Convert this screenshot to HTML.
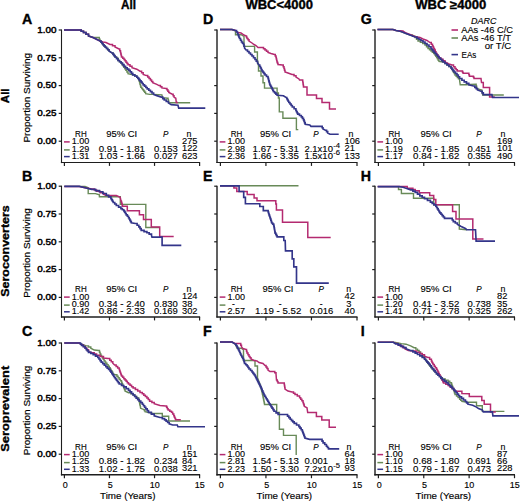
<!DOCTYPE html>
<html><head><meta charset="utf-8"><style>
html,body{margin:0;padding:0;background:#fff;width:520px;height:501px;overflow:hidden}
svg{display:block}
svg text{font-family:"Liberation Sans", sans-serif;fill:#000;stroke:#000;stroke-width:0.12px}
svg text[font-weight=bold]{stroke:#000;stroke-width:0.35px}
svg text.tk{stroke:#000;stroke-width:0.45px}
svg text.yl{stroke:#000;stroke-width:0.2px}
svg text.xl{stroke:#000;stroke-width:0.15px}
</style></head><body>
<svg width="520" height="501" viewBox="0 0 520 501">
<text x="121.00" y="8.70" font-size="12.2" font-weight="bold" textLength="15.00" lengthAdjust="spacingAndGlyphs">All</text>
<text x="245.40" y="8.70" font-size="12.2" font-weight="bold" textLength="67.60" lengthAdjust="spacingAndGlyphs">WBC&lt;4000</text>
<text x="415.20" y="8.70" font-size="12.2" font-weight="bold" textLength="71.20" lengthAdjust="spacingAndGlyphs">WBC ≥4000</text>
<text x="21.90" y="23.80" font-size="14.2" font-weight="bold">A</text>
<text x="21.90" y="181.40" font-size="14.2" font-weight="bold">B</text>
<text x="21.90" y="336.00" font-size="14.2" font-weight="bold">C</text>
<text x="202.90" y="23.80" font-size="14.2" font-weight="bold">D</text>
<text x="202.90" y="181.40" font-size="14.2" font-weight="bold">E</text>
<text x="202.90" y="336.00" font-size="14.2" font-weight="bold">F</text>
<text x="360.70" y="23.80" font-size="14.2" font-weight="bold">G</text>
<text x="360.70" y="181.40" font-size="14.2" font-weight="bold">H</text>
<text x="360.70" y="336.00" font-size="14.2" font-weight="bold">I</text>
<text x="9.00" y="95.80" font-size="11.2" font-weight="bold" text-anchor="middle" textLength="14.80" lengthAdjust="spacingAndGlyphs" transform="rotate(-90 9.00 95.80)">All</text>
<text x="29.80" y="97.80" font-size="8.6" text-anchor="middle" textLength="89.50" lengthAdjust="spacingAndGlyphs" transform="rotate(-90 29.80 97.80)" class="yl">Proportion Surviving</text>
<text x="9.00" y="251.00" font-size="11.2" font-weight="bold" text-anchor="middle" textLength="91.50" lengthAdjust="spacingAndGlyphs" transform="rotate(-90 9.00 251.00)">Seroconverters</text>
<text x="29.80" y="253.00" font-size="8.6" text-anchor="middle" textLength="89.50" lengthAdjust="spacingAndGlyphs" transform="rotate(-90 29.80 253.00)" class="yl">Proportion Surviving</text>
<text x="9.00" y="408.80" font-size="11.2" font-weight="bold" text-anchor="middle" textLength="86.00" lengthAdjust="spacingAndGlyphs" transform="rotate(-90 9.00 408.80)">Seroprevalent</text>
<text x="29.80" y="410.50" font-size="8.6" text-anchor="middle" textLength="89.50" lengthAdjust="spacingAndGlyphs" transform="rotate(-90 29.80 410.50)" class="yl">Proportion Surviving</text>
<line x1="61.50" y1="29.50" x2="61.50" y2="163.10" stroke="#1e1e1e" stroke-width="1.1"/>
<line x1="60.90" y1="162.50" x2="200.10" y2="162.50" stroke="#1e1e1e" stroke-width="1.1"/>
<line x1="58.70" y1="30.00" x2="61.50" y2="30.00" stroke="#1e1e1e" stroke-width="1.2"/>
<line x1="58.70" y1="57.80" x2="61.50" y2="57.80" stroke="#1e1e1e" stroke-width="1.2"/>
<line x1="58.70" y1="85.60" x2="61.50" y2="85.60" stroke="#1e1e1e" stroke-width="1.2"/>
<line x1="58.70" y1="113.40" x2="61.50" y2="113.40" stroke="#1e1e1e" stroke-width="1.2"/>
<line x1="58.70" y1="141.20" x2="61.50" y2="141.20" stroke="#1e1e1e" stroke-width="1.2"/>
<line x1="64.40" y1="162.50" x2="64.40" y2="165.90" stroke="#1e1e1e" stroke-width="1.2"/>
<line x1="109.47" y1="162.50" x2="109.47" y2="165.90" stroke="#1e1e1e" stroke-width="1.2"/>
<line x1="154.53" y1="162.50" x2="154.53" y2="165.90" stroke="#1e1e1e" stroke-width="1.2"/>
<line x1="199.60" y1="162.50" x2="199.60" y2="165.90" stroke="#1e1e1e" stroke-width="1.2"/>
<text x="56.50" y="32.70" font-size="8.8" text-anchor="end" textLength="19.20" lengthAdjust="spacingAndGlyphs" class="tk">1.00</text>
<text x="56.50" y="60.50" font-size="8.8" text-anchor="end" textLength="19.20" lengthAdjust="spacingAndGlyphs" class="tk">0.75</text>
<text x="56.50" y="88.30" font-size="8.8" text-anchor="end" textLength="19.20" lengthAdjust="spacingAndGlyphs" class="tk">0.50</text>
<text x="56.50" y="116.10" font-size="8.8" text-anchor="end" textLength="19.20" lengthAdjust="spacingAndGlyphs" class="tk">0.25</text>
<text x="56.50" y="143.90" font-size="8.8" text-anchor="end" textLength="19.20" lengthAdjust="spacingAndGlyphs" class="tk">0.00</text>
<line x1="61.50" y1="185.70" x2="61.50" y2="317.60" stroke="#1e1e1e" stroke-width="1.1"/>
<line x1="60.90" y1="317.00" x2="200.10" y2="317.00" stroke="#1e1e1e" stroke-width="1.4"/>
<line x1="58.70" y1="186.20" x2="61.50" y2="186.20" stroke="#1e1e1e" stroke-width="1.2"/>
<line x1="58.70" y1="214.00" x2="61.50" y2="214.00" stroke="#1e1e1e" stroke-width="1.2"/>
<line x1="58.70" y1="241.80" x2="61.50" y2="241.80" stroke="#1e1e1e" stroke-width="1.2"/>
<line x1="58.70" y1="269.60" x2="61.50" y2="269.60" stroke="#1e1e1e" stroke-width="1.2"/>
<line x1="58.70" y1="297.40" x2="61.50" y2="297.40" stroke="#1e1e1e" stroke-width="1.2"/>
<line x1="64.40" y1="317.00" x2="64.40" y2="320.40" stroke="#1e1e1e" stroke-width="1.2"/>
<line x1="109.47" y1="317.00" x2="109.47" y2="320.40" stroke="#1e1e1e" stroke-width="1.2"/>
<line x1="154.53" y1="317.00" x2="154.53" y2="320.40" stroke="#1e1e1e" stroke-width="1.2"/>
<line x1="199.60" y1="317.00" x2="199.60" y2="320.40" stroke="#1e1e1e" stroke-width="1.2"/>
<text x="56.50" y="188.90" font-size="8.8" text-anchor="end" textLength="19.20" lengthAdjust="spacingAndGlyphs" class="tk">1.00</text>
<text x="56.50" y="216.70" font-size="8.8" text-anchor="end" textLength="19.20" lengthAdjust="spacingAndGlyphs" class="tk">0.75</text>
<text x="56.50" y="244.50" font-size="8.8" text-anchor="end" textLength="19.20" lengthAdjust="spacingAndGlyphs" class="tk">0.50</text>
<text x="56.50" y="272.30" font-size="8.8" text-anchor="end" textLength="19.20" lengthAdjust="spacingAndGlyphs" class="tk">0.25</text>
<text x="56.50" y="300.10" font-size="8.8" text-anchor="end" textLength="19.20" lengthAdjust="spacingAndGlyphs" class="tk">0.00</text>
<line x1="61.50" y1="342.50" x2="61.50" y2="475.40" stroke="#1e1e1e" stroke-width="1.1"/>
<line x1="60.90" y1="474.80" x2="200.10" y2="474.80" stroke="#1e1e1e" stroke-width="1.4"/>
<line x1="58.70" y1="343.00" x2="61.50" y2="343.00" stroke="#1e1e1e" stroke-width="1.2"/>
<line x1="58.70" y1="370.80" x2="61.50" y2="370.80" stroke="#1e1e1e" stroke-width="1.2"/>
<line x1="58.70" y1="398.60" x2="61.50" y2="398.60" stroke="#1e1e1e" stroke-width="1.2"/>
<line x1="58.70" y1="426.40" x2="61.50" y2="426.40" stroke="#1e1e1e" stroke-width="1.2"/>
<line x1="58.70" y1="454.20" x2="61.50" y2="454.20" stroke="#1e1e1e" stroke-width="1.2"/>
<line x1="64.40" y1="474.80" x2="64.40" y2="478.20" stroke="#1e1e1e" stroke-width="1.2"/>
<line x1="109.47" y1="474.80" x2="109.47" y2="478.20" stroke="#1e1e1e" stroke-width="1.2"/>
<line x1="154.53" y1="474.80" x2="154.53" y2="478.20" stroke="#1e1e1e" stroke-width="1.2"/>
<line x1="199.60" y1="474.80" x2="199.60" y2="478.20" stroke="#1e1e1e" stroke-width="1.2"/>
<text x="56.50" y="345.70" font-size="8.8" text-anchor="end" textLength="19.20" lengthAdjust="spacingAndGlyphs" class="tk">1.00</text>
<text x="56.50" y="373.50" font-size="8.8" text-anchor="end" textLength="19.20" lengthAdjust="spacingAndGlyphs" class="tk">0.75</text>
<text x="56.50" y="401.30" font-size="8.8" text-anchor="end" textLength="19.20" lengthAdjust="spacingAndGlyphs" class="tk">0.50</text>
<text x="56.50" y="429.10" font-size="8.8" text-anchor="end" textLength="19.20" lengthAdjust="spacingAndGlyphs" class="tk">0.25</text>
<text x="56.50" y="456.90" font-size="8.8" text-anchor="end" textLength="19.20" lengthAdjust="spacingAndGlyphs" class="tk">0.00</text>
<text x="65.20" y="487.80" font-size="9.6" text-anchor="middle" textLength="5.00" lengthAdjust="spacingAndGlyphs" class="xl">0</text>
<text x="110.27" y="487.80" font-size="9.6" text-anchor="middle" textLength="5.00" lengthAdjust="spacingAndGlyphs" class="xl">5</text>
<text x="154.73" y="487.80" font-size="9.6" text-anchor="middle" textLength="10.00" lengthAdjust="spacingAndGlyphs" class="xl">10</text>
<text x="199.80" y="487.80" font-size="9.6" text-anchor="middle" textLength="10.00" lengthAdjust="spacingAndGlyphs" class="xl">15</text>
<text x="100.00" y="498.80" font-size="9.6" textLength="55.50" lengthAdjust="spacingAndGlyphs" class="xl">Time (Years)</text>
<line x1="217.00" y1="29.50" x2="217.00" y2="163.10" stroke="#1e1e1e" stroke-width="1.4"/>
<line x1="216.40" y1="162.50" x2="357.50" y2="162.50" stroke="#1e1e1e" stroke-width="1.1"/>
<line x1="214.20" y1="30.00" x2="217.00" y2="30.00" stroke="#1e1e1e" stroke-width="1.2"/>
<line x1="214.20" y1="57.80" x2="217.00" y2="57.80" stroke="#1e1e1e" stroke-width="1.2"/>
<line x1="214.20" y1="85.60" x2="217.00" y2="85.60" stroke="#1e1e1e" stroke-width="1.2"/>
<line x1="214.20" y1="113.40" x2="217.00" y2="113.40" stroke="#1e1e1e" stroke-width="1.2"/>
<line x1="214.20" y1="141.20" x2="217.00" y2="141.20" stroke="#1e1e1e" stroke-width="1.2"/>
<line x1="220.40" y1="162.50" x2="220.40" y2="165.90" stroke="#1e1e1e" stroke-width="1.2"/>
<line x1="265.93" y1="162.50" x2="265.93" y2="165.90" stroke="#1e1e1e" stroke-width="1.2"/>
<line x1="311.47" y1="162.50" x2="311.47" y2="165.90" stroke="#1e1e1e" stroke-width="1.2"/>
<line x1="357.00" y1="162.50" x2="357.00" y2="165.90" stroke="#1e1e1e" stroke-width="1.2"/>
<line x1="217.00" y1="185.70" x2="217.00" y2="317.60" stroke="#1e1e1e" stroke-width="1.4"/>
<line x1="216.40" y1="317.00" x2="357.50" y2="317.00" stroke="#1e1e1e" stroke-width="1.4"/>
<line x1="214.20" y1="186.20" x2="217.00" y2="186.20" stroke="#1e1e1e" stroke-width="1.2"/>
<line x1="214.20" y1="214.00" x2="217.00" y2="214.00" stroke="#1e1e1e" stroke-width="1.2"/>
<line x1="214.20" y1="241.80" x2="217.00" y2="241.80" stroke="#1e1e1e" stroke-width="1.2"/>
<line x1="214.20" y1="269.60" x2="217.00" y2="269.60" stroke="#1e1e1e" stroke-width="1.2"/>
<line x1="214.20" y1="297.40" x2="217.00" y2="297.40" stroke="#1e1e1e" stroke-width="1.2"/>
<line x1="220.40" y1="317.00" x2="220.40" y2="320.40" stroke="#1e1e1e" stroke-width="1.2"/>
<line x1="265.93" y1="317.00" x2="265.93" y2="320.40" stroke="#1e1e1e" stroke-width="1.2"/>
<line x1="311.47" y1="317.00" x2="311.47" y2="320.40" stroke="#1e1e1e" stroke-width="1.2"/>
<line x1="357.00" y1="317.00" x2="357.00" y2="320.40" stroke="#1e1e1e" stroke-width="1.2"/>
<line x1="217.00" y1="342.50" x2="217.00" y2="475.40" stroke="#1e1e1e" stroke-width="1.4"/>
<line x1="216.40" y1="474.80" x2="357.50" y2="474.80" stroke="#1e1e1e" stroke-width="1.4"/>
<line x1="214.20" y1="343.00" x2="217.00" y2="343.00" stroke="#1e1e1e" stroke-width="1.2"/>
<line x1="214.20" y1="370.80" x2="217.00" y2="370.80" stroke="#1e1e1e" stroke-width="1.2"/>
<line x1="214.20" y1="398.60" x2="217.00" y2="398.60" stroke="#1e1e1e" stroke-width="1.2"/>
<line x1="214.20" y1="426.40" x2="217.00" y2="426.40" stroke="#1e1e1e" stroke-width="1.2"/>
<line x1="214.20" y1="454.20" x2="217.00" y2="454.20" stroke="#1e1e1e" stroke-width="1.2"/>
<line x1="220.40" y1="474.80" x2="220.40" y2="478.20" stroke="#1e1e1e" stroke-width="1.2"/>
<line x1="265.93" y1="474.80" x2="265.93" y2="478.20" stroke="#1e1e1e" stroke-width="1.2"/>
<line x1="311.47" y1="474.80" x2="311.47" y2="478.20" stroke="#1e1e1e" stroke-width="1.2"/>
<line x1="357.00" y1="474.80" x2="357.00" y2="478.20" stroke="#1e1e1e" stroke-width="1.2"/>
<text x="221.20" y="487.80" font-size="9.6" text-anchor="middle" textLength="5.00" lengthAdjust="spacingAndGlyphs" class="xl">0</text>
<text x="266.73" y="487.80" font-size="9.6" text-anchor="middle" textLength="5.00" lengthAdjust="spacingAndGlyphs" class="xl">5</text>
<text x="311.67" y="487.80" font-size="9.6" text-anchor="middle" textLength="10.00" lengthAdjust="spacingAndGlyphs" class="xl">10</text>
<text x="357.20" y="487.80" font-size="9.6" text-anchor="middle" textLength="10.00" lengthAdjust="spacingAndGlyphs" class="xl">15</text>
<text x="256.60" y="498.80" font-size="9.6" textLength="55.50" lengthAdjust="spacingAndGlyphs" class="xl">Time (Years)</text>
<line x1="375.00" y1="29.50" x2="375.00" y2="163.10" stroke="#1e1e1e" stroke-width="1.4"/>
<line x1="374.40" y1="162.50" x2="515.00" y2="162.50" stroke="#1e1e1e" stroke-width="1.1"/>
<line x1="372.20" y1="30.00" x2="375.00" y2="30.00" stroke="#1e1e1e" stroke-width="1.2"/>
<line x1="372.20" y1="57.80" x2="375.00" y2="57.80" stroke="#1e1e1e" stroke-width="1.2"/>
<line x1="372.20" y1="85.60" x2="375.00" y2="85.60" stroke="#1e1e1e" stroke-width="1.2"/>
<line x1="372.20" y1="113.40" x2="375.00" y2="113.40" stroke="#1e1e1e" stroke-width="1.2"/>
<line x1="372.20" y1="141.20" x2="375.00" y2="141.20" stroke="#1e1e1e" stroke-width="1.2"/>
<line x1="378.40" y1="162.50" x2="378.40" y2="165.90" stroke="#1e1e1e" stroke-width="1.2"/>
<line x1="423.77" y1="162.50" x2="423.77" y2="165.90" stroke="#1e1e1e" stroke-width="1.2"/>
<line x1="469.13" y1="162.50" x2="469.13" y2="165.90" stroke="#1e1e1e" stroke-width="1.2"/>
<line x1="514.50" y1="162.50" x2="514.50" y2="165.90" stroke="#1e1e1e" stroke-width="1.2"/>
<line x1="375.00" y1="185.70" x2="375.00" y2="317.60" stroke="#1e1e1e" stroke-width="1.4"/>
<line x1="374.40" y1="317.00" x2="515.00" y2="317.00" stroke="#1e1e1e" stroke-width="1.4"/>
<line x1="372.20" y1="186.20" x2="375.00" y2="186.20" stroke="#1e1e1e" stroke-width="1.2"/>
<line x1="372.20" y1="214.00" x2="375.00" y2="214.00" stroke="#1e1e1e" stroke-width="1.2"/>
<line x1="372.20" y1="241.80" x2="375.00" y2="241.80" stroke="#1e1e1e" stroke-width="1.2"/>
<line x1="372.20" y1="269.60" x2="375.00" y2="269.60" stroke="#1e1e1e" stroke-width="1.2"/>
<line x1="372.20" y1="297.40" x2="375.00" y2="297.40" stroke="#1e1e1e" stroke-width="1.2"/>
<line x1="378.40" y1="317.00" x2="378.40" y2="320.40" stroke="#1e1e1e" stroke-width="1.2"/>
<line x1="423.77" y1="317.00" x2="423.77" y2="320.40" stroke="#1e1e1e" stroke-width="1.2"/>
<line x1="469.13" y1="317.00" x2="469.13" y2="320.40" stroke="#1e1e1e" stroke-width="1.2"/>
<line x1="514.50" y1="317.00" x2="514.50" y2="320.40" stroke="#1e1e1e" stroke-width="1.2"/>
<line x1="375.00" y1="342.50" x2="375.00" y2="475.40" stroke="#1e1e1e" stroke-width="1.4"/>
<line x1="374.40" y1="474.80" x2="515.00" y2="474.80" stroke="#1e1e1e" stroke-width="1.4"/>
<line x1="372.20" y1="343.00" x2="375.00" y2="343.00" stroke="#1e1e1e" stroke-width="1.2"/>
<line x1="372.20" y1="370.80" x2="375.00" y2="370.80" stroke="#1e1e1e" stroke-width="1.2"/>
<line x1="372.20" y1="398.60" x2="375.00" y2="398.60" stroke="#1e1e1e" stroke-width="1.2"/>
<line x1="372.20" y1="426.40" x2="375.00" y2="426.40" stroke="#1e1e1e" stroke-width="1.2"/>
<line x1="372.20" y1="454.20" x2="375.00" y2="454.20" stroke="#1e1e1e" stroke-width="1.2"/>
<line x1="378.40" y1="474.80" x2="378.40" y2="478.20" stroke="#1e1e1e" stroke-width="1.2"/>
<line x1="423.77" y1="474.80" x2="423.77" y2="478.20" stroke="#1e1e1e" stroke-width="1.2"/>
<line x1="469.13" y1="474.80" x2="469.13" y2="478.20" stroke="#1e1e1e" stroke-width="1.2"/>
<line x1="514.50" y1="474.80" x2="514.50" y2="478.20" stroke="#1e1e1e" stroke-width="1.2"/>
<text x="379.20" y="487.80" font-size="9.6" text-anchor="middle" textLength="5.00" lengthAdjust="spacingAndGlyphs" class="xl">0</text>
<text x="424.57" y="487.80" font-size="9.6" text-anchor="middle" textLength="5.00" lengthAdjust="spacingAndGlyphs" class="xl">5</text>
<text x="469.33" y="487.80" font-size="9.6" text-anchor="middle" textLength="10.00" lengthAdjust="spacingAndGlyphs" class="xl">10</text>
<text x="514.70" y="487.80" font-size="9.6" text-anchor="middle" textLength="10.00" lengthAdjust="spacingAndGlyphs" class="xl">15</text>
<text x="415.60" y="498.80" font-size="9.6" textLength="55.50" lengthAdjust="spacingAndGlyphs" class="xl">Time (Years)</text>
<text x="75.10" y="137.00" font-size="8.5" textLength="11.60" lengthAdjust="spacingAndGlyphs">RH</text>
<text x="106.20" y="137.00" font-size="8.5" textLength="31.00" lengthAdjust="spacingAndGlyphs">95% CI</text>
<text x="162.90" y="137.00" font-size="8.5" font-style="italic" textLength="5.40" lengthAdjust="spacingAndGlyphs">P</text>
<text x="186.40" y="137.00" font-size="8.5" textLength="4.90" lengthAdjust="spacingAndGlyphs">n</text>
<line x1="64.00" y1="141.90" x2="69.70" y2="141.90" stroke="#b42a70" stroke-width="1.5"/>
<text x="71.70" y="144.30" font-size="8.5" textLength="17.59" lengthAdjust="spacingAndGlyphs">1.00</text>
<text x="182.00" y="144.00" font-size="8.5" textLength="15.55" lengthAdjust="spacingAndGlyphs">275</text>
<line x1="64.00" y1="149.90" x2="69.70" y2="149.90" stroke="#688a58" stroke-width="1.5"/>
<text x="71.70" y="151.70" font-size="8.5" textLength="17.59" lengthAdjust="spacingAndGlyphs">1.29</text>
<text x="98.70" y="151.70" font-size="8.5" textLength="46.28" lengthAdjust="spacingAndGlyphs">0.91 - 1.81</text>
<text x="154.00" y="151.70" font-size="8.5" textLength="23.70" lengthAdjust="spacingAndGlyphs">0.153</text>
<text x="182.00" y="151.40" font-size="8.5" textLength="15.55" lengthAdjust="spacingAndGlyphs">122</text>
<line x1="64.00" y1="156.60" x2="69.70" y2="156.60" stroke="#33358a" stroke-width="1.5"/>
<text x="71.70" y="159.00" font-size="8.5" textLength="17.59" lengthAdjust="spacingAndGlyphs">1.31</text>
<text x="98.70" y="159.00" font-size="8.5" textLength="46.28" lengthAdjust="spacingAndGlyphs">1.03 - 1.66</text>
<text x="154.00" y="159.00" font-size="8.5" textLength="23.70" lengthAdjust="spacingAndGlyphs">0.027</text>
<text x="182.00" y="158.70" font-size="8.5" textLength="15.55" lengthAdjust="spacingAndGlyphs">623</text>
<text x="75.10" y="292.20" font-size="8.5" textLength="11.60" lengthAdjust="spacingAndGlyphs">RH</text>
<text x="106.20" y="292.20" font-size="8.5" textLength="31.00" lengthAdjust="spacingAndGlyphs">95% CI</text>
<text x="162.90" y="292.20" font-size="8.5" font-style="italic" textLength="5.40" lengthAdjust="spacingAndGlyphs">P</text>
<text x="186.40" y="292.20" font-size="8.5" textLength="4.90" lengthAdjust="spacingAndGlyphs">n</text>
<line x1="64.00" y1="297.10" x2="69.70" y2="297.10" stroke="#b42a70" stroke-width="1.5"/>
<text x="71.70" y="299.50" font-size="8.5" textLength="17.59" lengthAdjust="spacingAndGlyphs">1.00</text>
<text x="182.00" y="299.20" font-size="8.5" textLength="15.55" lengthAdjust="spacingAndGlyphs">124</text>
<line x1="64.00" y1="305.10" x2="69.70" y2="305.10" stroke="#688a58" stroke-width="1.5"/>
<text x="71.70" y="306.90" font-size="8.5" textLength="17.59" lengthAdjust="spacingAndGlyphs">0.90</text>
<text x="98.70" y="306.90" font-size="8.5" textLength="46.28" lengthAdjust="spacingAndGlyphs">0.34 - 2.40</text>
<text x="154.00" y="306.90" font-size="8.5" textLength="23.70" lengthAdjust="spacingAndGlyphs">0.830</text>
<text x="182.00" y="306.60" font-size="8.5" textLength="10.37" lengthAdjust="spacingAndGlyphs">38</text>
<line x1="64.00" y1="311.80" x2="69.70" y2="311.80" stroke="#33358a" stroke-width="1.5"/>
<text x="71.70" y="314.20" font-size="8.5" textLength="17.59" lengthAdjust="spacingAndGlyphs">1.42</text>
<text x="98.70" y="314.20" font-size="8.5" textLength="46.28" lengthAdjust="spacingAndGlyphs">0.86 - 2.33</text>
<text x="154.00" y="314.20" font-size="8.5" textLength="23.70" lengthAdjust="spacingAndGlyphs">0.169</text>
<text x="182.00" y="313.90" font-size="8.5" textLength="15.55" lengthAdjust="spacingAndGlyphs">302</text>
<text x="75.10" y="449.70" font-size="8.5" textLength="11.60" lengthAdjust="spacingAndGlyphs">RH</text>
<text x="106.20" y="449.70" font-size="8.5" textLength="31.00" lengthAdjust="spacingAndGlyphs">95% CI</text>
<text x="162.90" y="449.70" font-size="8.5" font-style="italic" textLength="5.40" lengthAdjust="spacingAndGlyphs">P</text>
<text x="186.80" y="449.70" font-size="8.5" textLength="4.90" lengthAdjust="spacingAndGlyphs">n</text>
<line x1="64.00" y1="454.60" x2="69.70" y2="454.60" stroke="#b42a70" stroke-width="1.5"/>
<text x="71.70" y="457.00" font-size="8.5" textLength="17.59" lengthAdjust="spacingAndGlyphs">1.00</text>
<text x="182.00" y="456.70" font-size="8.5" textLength="15.55" lengthAdjust="spacingAndGlyphs">151</text>
<line x1="64.00" y1="462.60" x2="69.70" y2="462.60" stroke="#688a58" stroke-width="1.5"/>
<text x="71.70" y="464.40" font-size="8.5" textLength="17.59" lengthAdjust="spacingAndGlyphs">1.25</text>
<text x="98.70" y="464.40" font-size="8.5" textLength="46.28" lengthAdjust="spacingAndGlyphs">0.86 - 1.82</text>
<text x="154.00" y="464.40" font-size="8.5" textLength="23.70" lengthAdjust="spacingAndGlyphs">0.234</text>
<text x="182.00" y="464.10" font-size="8.5" textLength="10.37" lengthAdjust="spacingAndGlyphs">84</text>
<line x1="64.00" y1="469.30" x2="69.70" y2="469.30" stroke="#33358a" stroke-width="1.5"/>
<text x="71.70" y="471.70" font-size="8.5" textLength="17.59" lengthAdjust="spacingAndGlyphs">1.33</text>
<text x="98.70" y="471.70" font-size="8.5" textLength="46.28" lengthAdjust="spacingAndGlyphs">1.02 - 1.75</text>
<text x="154.00" y="471.70" font-size="8.5" textLength="23.70" lengthAdjust="spacingAndGlyphs">0.038</text>
<text x="182.00" y="471.40" font-size="8.5" textLength="15.55" lengthAdjust="spacingAndGlyphs">321</text>
<text x="230.80" y="137.00" font-size="8.5" textLength="11.60" lengthAdjust="spacingAndGlyphs">RH</text>
<text x="260.10" y="137.00" font-size="8.5" textLength="31.00" lengthAdjust="spacingAndGlyphs">95% CI</text>
<text x="313.30" y="137.00" font-size="8.5" font-style="italic" textLength="5.40" lengthAdjust="spacingAndGlyphs">P</text>
<text x="348.40" y="137.00" font-size="8.5" textLength="4.90" lengthAdjust="spacingAndGlyphs">n</text>
<line x1="219.70" y1="141.90" x2="225.40" y2="141.90" stroke="#b42a70" stroke-width="1.5"/>
<text x="227.40" y="144.30" font-size="8.5" textLength="17.59" lengthAdjust="spacingAndGlyphs">1.00</text>
<text x="344.50" y="144.00" font-size="8.5" textLength="15.55" lengthAdjust="spacingAndGlyphs">106</text>
<line x1="219.70" y1="149.90" x2="225.40" y2="149.90" stroke="#688a58" stroke-width="1.5"/>
<text x="227.40" y="151.70" font-size="8.5" textLength="17.59" lengthAdjust="spacingAndGlyphs">2.98</text>
<text x="252.60" y="151.70" font-size="8.5" textLength="46.28" lengthAdjust="spacingAndGlyphs">1.67 - 5.31</text>
<text x="304.40" y="151.70" font-size="8.5" textLength="28.53" lengthAdjust="spacingAndGlyphs">2.1x10</text>
<text x="333.32" y="147.50" font-size="6.4" textLength="6.83" lengthAdjust="spacingAndGlyphs">-4</text>
<text x="344.50" y="151.40" font-size="8.5" textLength="10.37" lengthAdjust="spacingAndGlyphs">21</text>
<line x1="219.70" y1="156.60" x2="225.40" y2="156.60" stroke="#33358a" stroke-width="1.5"/>
<text x="227.40" y="159.00" font-size="8.5" textLength="17.59" lengthAdjust="spacingAndGlyphs">2.36</text>
<text x="252.60" y="159.00" font-size="8.5" textLength="46.28" lengthAdjust="spacingAndGlyphs">1.66 - 3.35</text>
<text x="304.40" y="159.00" font-size="8.5" textLength="28.53" lengthAdjust="spacingAndGlyphs">1.5x10</text>
<text x="333.32" y="154.80" font-size="6.4" textLength="6.83" lengthAdjust="spacingAndGlyphs">-6</text>
<text x="344.50" y="158.70" font-size="8.5" textLength="15.55" lengthAdjust="spacingAndGlyphs">133</text>
<text x="230.80" y="292.20" font-size="8.5" textLength="11.60" lengthAdjust="spacingAndGlyphs">RH</text>
<text x="262.50" y="292.20" font-size="8.5" textLength="31.00" lengthAdjust="spacingAndGlyphs">95% CI</text>
<text x="318.60" y="292.20" font-size="8.5" font-style="italic" textLength="5.40" lengthAdjust="spacingAndGlyphs">P</text>
<text x="346.30" y="292.20" font-size="8.5" textLength="4.90" lengthAdjust="spacingAndGlyphs">n</text>
<line x1="219.70" y1="297.10" x2="225.40" y2="297.10" stroke="#b42a70" stroke-width="1.5"/>
<text x="227.40" y="299.50" font-size="8.5" textLength="17.59" lengthAdjust="spacingAndGlyphs">1.00</text>
<text x="344.50" y="299.20" font-size="8.5" textLength="10.37" lengthAdjust="spacingAndGlyphs">42</text>
<line x1="219.70" y1="305.10" x2="225.40" y2="305.10" stroke="#688a58" stroke-width="1.5"/>
<text x="232.00" y="306.90" font-size="8.5">-</text>
<text x="278.70" y="306.90" font-size="8.5">-</text>
<text x="319.70" y="306.90" font-size="8.5">-</text>
<text x="346.30" y="306.60" font-size="8.5" textLength="5.18" lengthAdjust="spacingAndGlyphs">3</text>
<line x1="219.70" y1="311.80" x2="225.40" y2="311.80" stroke="#33358a" stroke-width="1.5"/>
<text x="227.40" y="314.20" font-size="8.5" textLength="17.59" lengthAdjust="spacingAndGlyphs">2.57</text>
<text x="255.00" y="314.20" font-size="8.5" textLength="46.28" lengthAdjust="spacingAndGlyphs">1.19 - 5.52</text>
<text x="309.70" y="314.20" font-size="8.5" textLength="23.70" lengthAdjust="spacingAndGlyphs">0.016</text>
<text x="344.50" y="313.90" font-size="8.5" textLength="10.37" lengthAdjust="spacingAndGlyphs">40</text>
<text x="230.80" y="449.70" font-size="8.5" textLength="11.60" lengthAdjust="spacingAndGlyphs">RH</text>
<text x="260.10" y="449.70" font-size="8.5" textLength="31.00" lengthAdjust="spacingAndGlyphs">95% CI</text>
<text x="313.30" y="449.70" font-size="8.5" font-style="italic" textLength="5.40" lengthAdjust="spacingAndGlyphs">P</text>
<text x="346.50" y="449.70" font-size="8.5" textLength="4.90" lengthAdjust="spacingAndGlyphs">n</text>
<line x1="219.70" y1="454.60" x2="225.40" y2="454.60" stroke="#b42a70" stroke-width="1.5"/>
<text x="227.40" y="457.00" font-size="8.5" textLength="17.59" lengthAdjust="spacingAndGlyphs">1.00</text>
<text x="344.50" y="456.70" font-size="8.5" textLength="10.37" lengthAdjust="spacingAndGlyphs">64</text>
<line x1="219.70" y1="462.60" x2="225.40" y2="462.60" stroke="#688a58" stroke-width="1.5"/>
<text x="227.40" y="464.40" font-size="8.5" textLength="17.59" lengthAdjust="spacingAndGlyphs">2.81</text>
<text x="252.60" y="464.40" font-size="8.5" textLength="46.28" lengthAdjust="spacingAndGlyphs">1.54 - 5.13</text>
<text x="304.40" y="464.40" font-size="8.5" textLength="23.70" lengthAdjust="spacingAndGlyphs">0.001</text>
<text x="344.50" y="464.10" font-size="8.5" textLength="10.37" lengthAdjust="spacingAndGlyphs">18</text>
<line x1="219.70" y1="469.30" x2="225.40" y2="469.30" stroke="#33358a" stroke-width="1.5"/>
<text x="227.40" y="471.70" font-size="8.5" textLength="17.59" lengthAdjust="spacingAndGlyphs">2.23</text>
<text x="252.60" y="471.70" font-size="8.5" textLength="46.28" lengthAdjust="spacingAndGlyphs">1.50 - 3.30</text>
<text x="304.40" y="471.70" font-size="8.5" textLength="28.53" lengthAdjust="spacingAndGlyphs">7.2x10</text>
<text x="333.32" y="467.50" font-size="6.4" textLength="6.83" lengthAdjust="spacingAndGlyphs">-5</text>
<text x="344.50" y="471.40" font-size="8.5" textLength="10.37" lengthAdjust="spacingAndGlyphs">93</text>
<text x="388.50" y="137.00" font-size="8.5" textLength="11.60" lengthAdjust="spacingAndGlyphs">RH</text>
<text x="420.60" y="137.00" font-size="8.5" textLength="31.00" lengthAdjust="spacingAndGlyphs">95% CI</text>
<text x="476.30" y="137.00" font-size="8.5" font-style="italic" textLength="5.40" lengthAdjust="spacingAndGlyphs">P</text>
<text x="500.50" y="137.00" font-size="8.5" textLength="4.90" lengthAdjust="spacingAndGlyphs">n</text>
<line x1="377.40" y1="141.90" x2="383.10" y2="141.90" stroke="#b42a70" stroke-width="1.5"/>
<text x="385.10" y="144.30" font-size="8.5" textLength="17.59" lengthAdjust="spacingAndGlyphs">1.00</text>
<text x="497.00" y="144.00" font-size="8.5" textLength="15.55" lengthAdjust="spacingAndGlyphs">169</text>
<line x1="377.40" y1="149.90" x2="383.10" y2="149.90" stroke="#688a58" stroke-width="1.5"/>
<text x="385.10" y="151.70" font-size="8.5" textLength="17.59" lengthAdjust="spacingAndGlyphs">1.19</text>
<text x="413.10" y="151.70" font-size="8.5" textLength="46.28" lengthAdjust="spacingAndGlyphs">0.76 - 1.85</text>
<text x="467.40" y="151.70" font-size="8.5" textLength="23.70" lengthAdjust="spacingAndGlyphs">0.451</text>
<text x="497.00" y="151.40" font-size="8.5" textLength="15.55" lengthAdjust="spacingAndGlyphs">101</text>
<line x1="377.40" y1="156.60" x2="383.10" y2="156.60" stroke="#33358a" stroke-width="1.5"/>
<text x="385.10" y="159.00" font-size="8.5" textLength="17.59" lengthAdjust="spacingAndGlyphs">1.17</text>
<text x="413.10" y="159.00" font-size="8.5" textLength="46.28" lengthAdjust="spacingAndGlyphs">0.84 - 1.62</text>
<text x="467.40" y="159.00" font-size="8.5" textLength="23.70" lengthAdjust="spacingAndGlyphs">0.355</text>
<text x="497.00" y="158.70" font-size="8.5" textLength="15.55" lengthAdjust="spacingAndGlyphs">490</text>
<text x="388.50" y="292.20" font-size="8.5" textLength="11.60" lengthAdjust="spacingAndGlyphs">RH</text>
<text x="420.60" y="292.20" font-size="8.5" textLength="31.00" lengthAdjust="spacingAndGlyphs">95% CI</text>
<text x="476.30" y="292.20" font-size="8.5" font-style="italic" textLength="5.40" lengthAdjust="spacingAndGlyphs">P</text>
<text x="500.50" y="292.20" font-size="8.5" textLength="4.90" lengthAdjust="spacingAndGlyphs">n</text>
<line x1="377.40" y1="297.10" x2="383.10" y2="297.10" stroke="#b42a70" stroke-width="1.5"/>
<text x="385.10" y="299.50" font-size="8.5" textLength="17.59" lengthAdjust="spacingAndGlyphs">1.00</text>
<text x="497.00" y="299.20" font-size="8.5" textLength="10.37" lengthAdjust="spacingAndGlyphs">82</text>
<line x1="377.40" y1="305.10" x2="383.10" y2="305.10" stroke="#688a58" stroke-width="1.5"/>
<text x="385.10" y="306.90" font-size="8.5" textLength="17.59" lengthAdjust="spacingAndGlyphs">1.20</text>
<text x="413.10" y="306.90" font-size="8.5" textLength="46.28" lengthAdjust="spacingAndGlyphs">0.41 - 3.52</text>
<text x="467.40" y="306.90" font-size="8.5" textLength="23.70" lengthAdjust="spacingAndGlyphs">0.738</text>
<text x="497.00" y="306.60" font-size="8.5" textLength="10.37" lengthAdjust="spacingAndGlyphs">35</text>
<line x1="377.40" y1="311.80" x2="383.10" y2="311.80" stroke="#33358a" stroke-width="1.5"/>
<text x="385.10" y="314.20" font-size="8.5" textLength="17.59" lengthAdjust="spacingAndGlyphs">1.41</text>
<text x="413.10" y="314.20" font-size="8.5" textLength="46.28" lengthAdjust="spacingAndGlyphs">0.71 - 2.78</text>
<text x="467.40" y="314.20" font-size="8.5" textLength="23.70" lengthAdjust="spacingAndGlyphs">0.325</text>
<text x="497.00" y="313.90" font-size="8.5" textLength="15.55" lengthAdjust="spacingAndGlyphs">262</text>
<text x="388.50" y="449.70" font-size="8.5" textLength="11.60" lengthAdjust="spacingAndGlyphs">RH</text>
<text x="420.60" y="449.70" font-size="8.5" textLength="31.00" lengthAdjust="spacingAndGlyphs">95% CI</text>
<text x="476.30" y="449.70" font-size="8.5" font-style="italic" textLength="5.40" lengthAdjust="spacingAndGlyphs">P</text>
<text x="500.50" y="449.70" font-size="8.5" textLength="4.90" lengthAdjust="spacingAndGlyphs">n</text>
<line x1="377.40" y1="454.60" x2="383.10" y2="454.60" stroke="#b42a70" stroke-width="1.5"/>
<text x="385.10" y="457.00" font-size="8.5" textLength="17.59" lengthAdjust="spacingAndGlyphs">1.00</text>
<text x="497.00" y="456.70" font-size="8.5" textLength="10.37" lengthAdjust="spacingAndGlyphs">87</text>
<line x1="377.40" y1="462.60" x2="383.10" y2="462.60" stroke="#688a58" stroke-width="1.5"/>
<text x="385.10" y="464.40" font-size="8.5" textLength="17.59" lengthAdjust="spacingAndGlyphs">1.10</text>
<text x="413.10" y="464.40" font-size="8.5" textLength="46.28" lengthAdjust="spacingAndGlyphs">0.68 - 1.80</text>
<text x="467.40" y="464.40" font-size="8.5" textLength="23.70" lengthAdjust="spacingAndGlyphs">0.691</text>
<text x="497.00" y="464.10" font-size="8.5" textLength="10.37" lengthAdjust="spacingAndGlyphs">66</text>
<line x1="377.40" y1="469.30" x2="383.10" y2="469.30" stroke="#33358a" stroke-width="1.5"/>
<text x="385.10" y="471.70" font-size="8.5" textLength="17.59" lengthAdjust="spacingAndGlyphs">1.15</text>
<text x="413.10" y="471.70" font-size="8.5" textLength="46.28" lengthAdjust="spacingAndGlyphs">0.79 - 1.67</text>
<text x="467.40" y="471.70" font-size="8.5" textLength="23.70" lengthAdjust="spacingAndGlyphs">0.473</text>
<text x="497.00" y="471.40" font-size="8.5" textLength="15.55" lengthAdjust="spacingAndGlyphs">228</text>
<text x="471.00" y="24.30" font-size="8.2" font-style="italic" textLength="25.40" lengthAdjust="spacingAndGlyphs">DARC</text>
<text x="461.20" y="32.90" font-size="8.6" textLength="51.80" lengthAdjust="spacingAndGlyphs">AAs -46 C/C</text>
<text x="461.20" y="40.90" font-size="8.6" textLength="49.80" lengthAdjust="spacingAndGlyphs">AAs -46 T/T</text>
<text x="484.70" y="48.80" font-size="8.6" textLength="26.60" lengthAdjust="spacingAndGlyphs">or T/C</text>
<text x="461.60" y="57.50" font-size="8.6" textLength="14.80" lengthAdjust="spacingAndGlyphs">EAs</text>
<line x1="451.50" y1="30.00" x2="458.00" y2="30.00" stroke="#b42a70" stroke-width="1.6"/>
<line x1="451.50" y1="38.00" x2="458.00" y2="38.00" stroke="#688a58" stroke-width="1.6"/>
<line x1="451.50" y1="54.60" x2="458.00" y2="54.60" stroke="#33358a" stroke-width="1.6"/>
<polyline points="64.00,30.00 79.00,30.00 81.25,30.00 81.25,31.25 83.50,31.25 83.50,32.50 86.00,32.50 86.00,34.25 88.50,34.25 88.50,36.00 93.00,37.50 98.50,37.50 99.25,37.50 99.25,39.25 100.00,39.25 100.00,41.00 101.00,41.00 101.00,42.25 102.00,42.25 102.00,43.50 103.00,43.50 103.00,44.75 104.00,44.75 104.00,46.00 105.25,46.00 105.25,47.25 106.50,47.25 106.50,48.50 107.75,48.50 107.75,49.75 109.00,49.75 109.00,51.00 112.00,53.00 113.00,53.00 113.00,54.33 114.00,54.33 114.00,55.67 115.00,55.67 115.00,57.00 118.00,58.00 118.00,60.50 119.50,60.50 119.50,61.75 121.00,61.75 121.00,63.00 121.95,63.00 121.95,64.45 122.90,64.45 122.90,65.90 123.85,65.90 123.85,67.35 124.80,67.35 124.80,68.80 125.87,68.80 125.87,70.40 126.93,70.40 126.93,72.00 128.00,72.00 128.00,73.60 132.80,74.80 134.80,74.80 134.80,76.00 136.80,76.00 136.80,77.20 138.40,78.40 138.80,78.40 138.80,79.87 139.20,79.87 139.20,81.33 139.60,81.33 139.60,82.80 140.00,82.80 140.00,84.27 140.40,84.27 140.40,85.73 140.80,85.73 140.80,87.20 141.76,87.20 141.76,88.48 142.72,88.48 142.72,89.76 143.68,89.76 143.68,91.04 144.64,91.04 144.64,92.32 145.60,92.32 145.60,93.60 149.60,94.40 153.80,94.40 161.90,94.80 162.50,97.70 167.70,98.30 168.07,98.30 168.07,99.77 168.43,99.77 168.43,101.23 168.80,101.23 168.80,102.70 190.20,102.70" fill="none" stroke="#688a58" stroke-width="1.4" stroke-linejoin="miter"/>
<polyline points="64.00,30.00 79.00,30.00 81.25,30.00 81.25,31.25 83.50,31.25 83.50,32.50 86.00,32.50 86.00,34.25 88.50,34.25 88.50,36.00 93.00,37.50 97.00,39.50 100.00,41.00 103.00,42.00 106.00,42.50 110.00,44.50 112.50,44.50 112.50,45.75 115.00,45.75 115.00,47.00 119.00,49.00 119.75,49.00 119.75,50.75 120.50,50.75 120.50,52.50 120.83,52.50 120.83,54.00 121.17,54.00 121.17,55.50 121.50,55.50 121.50,57.00 122.75,57.00 122.75,58.25 124.00,58.25 124.00,59.50 125.00,59.50 125.00,60.83 126.00,60.83 126.00,62.15 127.00,62.15 127.00,63.47 128.00,63.47 128.00,64.80 130.00,64.80 130.00,66.20 132.00,66.20 132.00,67.60 136.80,69.20 140.00,71.20 141.60,71.20 141.60,72.80 143.20,72.80 143.20,74.40 146.40,75.60 147.73,75.60 147.73,77.07 149.07,77.07 149.07,78.53 150.40,78.53 150.40,80.00 151.60,80.00 151.60,81.40 152.80,81.40 152.80,82.80 156.80,84.40 159.00,85.60 160.45,85.60 160.45,86.75 161.90,86.75 161.90,87.90 166.00,88.50 166.93,88.50 166.93,89.83 167.87,89.83 167.87,91.17 168.80,91.17 168.80,92.50 172.30,94.20 173.15,94.20 173.15,95.65 174.00,95.65 174.00,97.10 175.80,98.30 176.30,102.50 178.00,102.50" fill="none" stroke="#b42a70" stroke-width="1.5" stroke-linejoin="miter"/>
<polyline points="64.00,30.00 79.00,30.00 81.25,30.00 81.25,31.25 83.50,31.25 83.50,32.50 86.00,32.50 86.00,34.25 88.50,34.25 88.50,36.00 93.00,37.50 97.00,39.50 100.00,41.00 101.00,41.00 101.00,42.25 102.00,42.25 102.00,43.50 103.00,43.50 103.00,44.75 104.00,44.75 104.00,46.00 105.25,46.00 105.25,47.25 106.50,47.25 106.50,48.50 107.75,48.50 107.75,49.75 109.00,49.75 109.00,51.00 112.00,53.00 113.00,53.00 113.00,54.33 114.00,54.33 114.00,55.67 115.00,55.67 115.00,57.00 116.50,57.00 116.50,58.75 118.00,58.75 118.00,60.50 119.50,60.50 119.50,61.75 121.00,61.75 121.00,63.00 122.50,63.00 122.50,64.70 124.00,64.70 124.00,66.40 125.60,66.40 125.60,67.73 127.20,67.73 127.20,69.07 128.80,69.07 128.80,70.40 130.13,70.40 130.13,71.87 131.47,71.87 131.47,73.33 132.80,73.33 132.80,74.80 134.80,74.80 134.80,76.00 136.80,76.00 136.80,77.20 137.87,77.20 137.87,78.40 138.93,78.40 138.93,79.60 140.00,79.60 140.00,80.80 141.07,80.80 141.07,82.13 142.13,82.13 142.13,83.47 143.20,83.47 143.20,84.80 144.53,84.80 144.53,86.13 145.87,86.13 145.87,87.47 147.20,87.47 147.20,88.80 148.80,88.80 148.80,90.20 150.40,90.20 150.40,91.60 152.00,91.60 152.00,93.00 153.60,93.00 153.60,94.40 156.80,95.60 161.30,97.10 162.75,97.10 162.75,98.55 164.20,98.55 164.20,100.00 166.25,100.00 166.25,101.45 168.30,101.45 168.30,102.90 171.20,104.60 178.00,105.20 178.70,108.10 205.30,108.10" fill="none" stroke="#33358a" stroke-width="1.65" stroke-linejoin="miter"/>
<polyline points="64.30,186.40 85.10,186.40 88.20,187.80 88.20,193.60 95.50,193.60 99.40,194.80 99.40,196.80 120.30,196.80 120.30,204.40 145.80,204.40 145.80,227.50 159.70,227.50" fill="none" stroke="#688a58" stroke-width="1.4" stroke-linejoin="miter"/>
<polyline points="64.30,186.40 79.30,186.40 85.10,187.80 92.00,188.90 94.30,188.90 94.30,190.05 96.60,190.05 96.60,191.20 100.05,191.20 100.05,192.70 103.50,192.70 103.50,194.20 106.30,195.50 116.30,195.50 120.20,197.20 121.00,201.00 121.38,201.00 121.38,202.30 121.75,202.30 121.75,203.60 122.12,203.60 122.12,204.90 122.50,204.90 122.50,206.20 127.30,206.20 127.30,210.80 139.40,210.80 139.40,214.80 143.50,214.80 143.50,219.50 151.30,219.50 151.30,227.00 159.70,227.00 159.70,236.60 173.70,236.60" fill="none" stroke="#b42a70" stroke-width="1.5" stroke-linejoin="miter"/>
<polyline points="64.30,186.40 79.30,186.40 85.10,187.80 91.70,189.40 95.55,189.40 95.55,190.55 99.40,190.55 99.40,191.70 102.85,191.70 102.85,193.45 106.30,193.45 106.30,195.20 108.60,195.20 108.60,196.90 110.90,196.90 110.90,198.60 111.67,198.60 111.67,199.90 112.43,199.90 112.43,201.20 113.20,201.20 113.20,202.50 114.75,202.50 114.75,204.00 116.30,204.00 116.30,205.50 118.60,205.50 118.60,207.05 120.90,207.05 120.90,208.60 122.35,208.60 122.35,209.70 123.80,209.70 123.80,210.80 124.60,210.80 124.60,212.13 125.40,212.13 125.40,213.47 126.20,213.47 126.20,214.80 127.35,214.80 127.35,216.25 128.50,216.25 128.50,217.70 129.20,217.70 129.20,219.00 129.90,219.00 129.90,220.30 130.60,220.30 130.60,221.60 131.30,221.60 131.30,222.90 135.40,223.50 137.10,223.50 137.10,225.20 138.80,225.20 138.80,226.90 140.00,226.90 140.00,228.65 141.20,228.65 141.20,230.40 144.05,230.40 144.05,231.55 146.90,231.55 146.90,232.70 149.20,232.70 149.20,234.15 151.50,234.15 151.50,235.60 152.00,237.10 162.10,237.10 162.10,245.30 181.30,245.30" fill="none" stroke="#33358a" stroke-width="1.65" stroke-linejoin="miter"/>
<polyline points="64.30,343.00 79.30,343.00 81.60,344.20 86.20,345.90 88.50,345.90 88.50,347.05 90.80,347.05 90.80,348.20 94.30,350.00 98.90,350.50 99.50,350.50 99.50,352.25 100.10,352.25 100.10,354.00 100.87,354.00 100.87,355.33 101.63,355.33 101.63,356.67 102.40,356.67 102.40,358.00 103.25,358.00 103.25,359.30 104.10,359.30 104.10,360.60 104.95,360.60 104.95,361.90 105.80,361.90 105.80,363.20 106.97,363.20 106.97,364.73 108.13,364.73 108.13,366.27 109.30,366.27 109.30,367.80 110.17,367.80 110.17,369.25 111.05,369.25 111.05,370.70 111.92,370.70 111.92,372.15 112.80,372.15 112.80,373.60 115.80,374.80 116.94,374.80 116.94,376.30 118.08,376.30 118.08,377.80 119.22,377.80 119.22,379.30 120.36,379.30 120.36,380.80 121.50,380.80 121.50,382.30 122.08,382.30 122.08,383.75 122.67,383.75 122.67,385.20 123.25,385.20 123.25,386.65 123.83,386.65 123.83,388.10 124.42,388.10 124.42,389.55 125.00,389.55 125.00,391.00 128.50,392.70 130.80,392.70 130.80,393.85 133.10,393.85 133.10,395.00 135.00,395.00 135.00,396.53 136.90,396.53 136.90,398.07 138.80,398.07 138.80,399.60 139.10,399.60 139.10,401.05 139.40,401.05 139.40,402.50 139.70,402.50 139.70,403.95 140.00,403.95 140.00,405.40 140.30,405.40 140.30,406.85 140.60,406.85 140.60,408.30 143.50,409.40 144.25,409.40 144.25,410.55 145.00,410.55 145.00,411.70 153.10,413.50 162.30,413.50 162.30,416.30 168.70,416.30 168.70,421.00 190.00,421.00" fill="none" stroke="#688a58" stroke-width="1.4" stroke-linejoin="miter"/>
<polyline points="64.30,343.00 79.30,343.00 81.60,345.00 83.35,345.00 83.35,346.50 85.10,346.50 85.10,348.00 86.80,348.00 86.80,349.75 88.50,349.75 88.50,351.50 92.00,352.80 94.30,352.80 94.30,354.00 96.60,354.00 96.60,355.20 100.05,355.20 100.05,356.60 103.50,356.60 103.50,358.00 108.20,358.60 109.73,358.60 109.73,360.13 111.27,360.13 111.27,361.67 112.80,361.67 112.80,363.20 114.60,365.00 116.13,365.00 116.13,366.53 117.67,366.53 117.67,368.07 119.20,368.07 119.20,369.60 119.66,369.60 119.66,370.88 120.12,370.88 120.12,372.16 120.58,372.16 120.58,373.44 121.04,373.44 121.04,374.72 121.50,374.72 121.50,376.00 122.67,376.00 122.67,377.33 123.83,377.33 123.83,378.67 125.00,378.67 125.00,380.00 126.17,380.00 126.17,381.33 127.33,381.33 127.33,382.67 128.50,382.67 128.50,384.00 130.03,384.00 130.03,385.37 131.57,385.37 131.57,386.73 133.10,386.73 133.10,388.10 135.40,388.10 135.40,389.55 137.70,389.55 137.70,391.00 140.00,391.00 140.00,392.40 142.30,392.40 142.30,393.80 143.83,393.80 143.83,395.17 145.37,395.17 145.37,396.53 146.90,396.53 146.90,397.90 148.25,397.90 148.25,399.60 149.60,399.60 149.60,401.30 151.90,401.30 151.90,402.50 154.20,402.50 154.20,403.70 160.00,405.40 165.80,406.00 166.57,406.00 166.57,407.33 167.33,407.33 167.33,408.67 168.10,408.67 168.10,410.00 169.80,410.00 169.80,411.15 171.50,411.15 171.50,412.30 172.65,412.30 172.65,414.05 173.80,414.05 173.80,415.80 174.40,415.80 174.40,417.13 175.00,417.13 175.00,418.47 175.60,418.47 175.60,419.80 180.80,419.80" fill="none" stroke="#b42a70" stroke-width="1.5" stroke-linejoin="miter"/>
<polyline points="64.30,343.00 79.30,343.00 80.45,343.00 80.45,344.15 81.60,344.15 81.60,345.30 83.35,345.30 83.35,346.75 85.10,346.75 85.10,348.20 86.23,348.20 86.23,349.57 87.37,349.57 87.37,350.93 88.50,350.93 88.50,352.30 90.85,352.30 90.85,353.45 93.20,353.45 93.20,354.60 95.50,354.60 95.50,356.05 97.80,356.05 97.80,357.50 98.93,357.50 98.93,359.03 100.07,359.03 100.07,360.57 101.20,360.57 101.20,362.10 102.73,362.10 102.73,363.63 104.27,363.63 104.27,365.17 105.80,365.17 105.80,366.70 107.20,366.70 107.20,368.07 108.60,368.07 108.60,369.43 110.00,369.43 110.00,370.80 110.92,370.80 110.92,372.18 111.84,372.18 111.84,373.56 112.76,373.56 112.76,374.94 113.68,374.94 113.68,376.32 114.60,376.32 114.60,377.70 115.52,377.70 115.52,378.96 116.44,378.96 116.44,380.22 117.36,380.22 117.36,381.48 118.28,381.48 118.28,382.74 119.20,382.74 119.20,384.00 121.50,384.00 121.50,385.45 123.80,385.45 123.80,386.90 126.15,386.90 126.15,388.65 128.50,388.65 128.50,390.40 130.03,390.40 130.03,391.93 131.57,391.93 131.57,393.47 133.10,393.47 133.10,395.00 134.63,395.00 134.63,396.53 136.17,396.53 136.17,398.07 137.70,398.07 137.70,399.60 139.23,399.60 139.23,401.13 140.77,401.13 140.77,402.67 142.30,402.67 142.30,404.20 143.47,404.20 143.47,405.73 144.63,405.73 144.63,407.27 145.80,407.27 145.80,408.80 147.15,408.80 147.15,410.55 148.50,410.55 148.50,412.30 151.35,412.30 151.35,414.05 154.20,414.05 154.20,415.80 160.00,417.50 162.30,417.50 162.30,418.65 164.60,418.65 164.60,419.80 166.13,419.80 166.13,421.13 167.67,421.13 167.67,422.47 169.20,422.47 169.20,423.80 172.70,425.00 177.30,425.00 177.90,426.70 205.00,426.70" fill="none" stroke="#33358a" stroke-width="1.65" stroke-linejoin="miter"/>
<polyline points="220.00,29.50 232.00,29.50 235.50,31.00 235.50,34.70 241.20,34.70 244.00,36.40 244.00,46.40 254.60,46.40 254.60,52.00 257.40,52.00 257.40,61.50 257.77,61.50 257.77,63.00 258.13,63.00 258.13,64.50 258.50,64.50 258.50,66.00 258.50,71.00 261.00,71.00 261.00,76.00 263.00,76.00 263.00,82.70 264.50,82.70 264.50,88.10 277.10,88.10 277.10,93.00 278.40,93.00 278.40,98.00 279.30,98.00 279.30,111.90 282.90,111.90 282.90,118.20 296.40,118.20 296.40,129.60 298.30,129.60" fill="none" stroke="#688a58" stroke-width="1.4" stroke-linejoin="miter"/>
<polyline points="220.00,29.50 232.00,29.50 235.50,30.50 238.00,32.50 241.00,33.00 244.00,35.00 246.00,36.00 246.50,36.00 246.50,37.25 247.00,37.25 247.00,38.50 248.00,38.50 248.00,39.75 249.00,39.75 249.00,41.00 252.00,43.00 254.00,44.50 256.00,45.50 258.00,47.50 262.00,47.50 263.50,47.50 263.50,48.75 265.00,48.75 265.00,50.00 266.50,50.00 266.50,51.25 268.00,51.25 268.00,52.50 271.00,53.50 274.50,54.50 275.25,54.50 275.25,56.00 276.00,56.00 276.00,57.50 276.33,57.50 276.33,59.00 276.67,59.00 276.67,60.50 277.00,60.50 277.00,62.00 277.50,62.00 277.50,63.25 278.00,63.25 278.00,64.50 282.50,65.00 283.25,65.00 283.25,66.75 284.00,66.75 284.00,68.50 284.50,68.50 284.50,70.25 285.00,70.25 285.00,72.00 288.00,73.00 292.00,74.50 294.00,74.50 294.00,75.75 296.00,75.75 296.00,77.00 299.00,79.00 299.50,80.00 302.50,80.00 302.70,80.00 302.70,81.40 302.90,81.40 302.90,82.80 303.10,82.80 303.10,84.20 303.30,84.20 303.30,85.60 303.50,85.60 303.50,87.00 307.00,87.00 307.00,95.00 316.50,95.00 316.50,98.50 322.00,98.50 322.00,102.50 329.50,102.50 329.50,109.00 336.00,109.00" fill="none" stroke="#b42a70" stroke-width="1.5" stroke-linejoin="miter"/>
<polyline points="220.00,29.50 232.00,29.50 235.50,30.50 236.50,30.50 236.50,32.00 237.50,32.00 237.50,33.50 238.00,33.50 238.00,34.75 238.50,34.75 238.50,36.00 239.00,36.00 239.00,37.25 239.50,37.25 239.50,38.50 240.50,38.50 240.50,40.25 241.50,40.25 241.50,42.00 242.50,42.00 242.50,43.25 243.50,43.25 243.50,44.50 244.00,44.50 244.00,46.25 244.50,46.25 244.50,48.00 246.00,50.00 247.50,50.00 247.50,51.50 249.00,51.50 249.00,53.00 250.50,53.00 250.50,54.50 252.00,54.50 252.00,56.00 253.50,56.00 253.50,57.75 255.00,57.75 255.00,59.50 256.25,59.50 256.25,61.25 257.50,61.25 257.50,63.00 259.00,65.00 259.75,65.00 259.75,66.50 260.50,66.50 260.50,68.00 261.25,68.00 261.25,69.50 262.00,69.50 262.00,71.00 263.00,71.00 263.00,72.33 264.00,72.33 264.00,73.67 265.00,73.67 265.00,75.00 266.50,75.00 266.50,76.50 268.00,76.50 268.00,78.00 268.38,78.00 268.38,79.40 268.76,79.40 268.76,80.80 269.14,80.80 269.14,82.20 269.52,82.20 269.52,83.60 269.90,83.60 269.90,85.00 270.62,85.00 270.62,86.34 271.34,86.34 271.34,87.68 272.06,87.68 272.06,89.02 272.78,89.02 272.78,90.36 273.50,90.36 273.50,91.70 274.70,91.70 274.70,92.90 275.90,92.90 275.90,94.10 277.10,94.10 277.10,95.30 283.40,95.70 286.10,97.50 286.78,97.50 286.78,98.75 287.45,98.75 287.45,100.00 288.12,100.00 288.12,101.25 288.80,101.25 288.80,102.50 289.97,102.50 289.97,104.00 291.13,104.00 291.13,105.50 292.30,105.50 292.30,107.00 294.10,107.00 294.10,108.75 295.90,108.75 295.90,110.50 296.50,110.50 296.50,111.70 297.10,111.70 297.10,112.90 297.70,112.90 297.70,114.10 299.50,114.10 299.50,115.45 301.30,115.45 301.30,116.80 302.40,116.80 302.40,118.30 303.50,118.30 303.50,119.80 304.07,119.80 304.07,121.33 304.63,121.33 304.63,122.87 305.20,122.87 305.20,124.40 309.80,125.00 311.00,126.40 321.30,126.40 322.15,126.40 322.15,127.70 323.00,127.70 323.00,129.00 325.40,130.20 326.55,130.20 326.55,131.65 327.70,131.65 327.70,133.10 330.00,134.20 338.70,134.20" fill="none" stroke="#33358a" stroke-width="1.65" stroke-linejoin="miter"/>
<polyline points="220.00,185.80 298.50,185.80" fill="none" stroke="#688a58" stroke-width="1.4" stroke-linejoin="miter"/>
<polyline points="220.00,185.80 233.90,185.80 233.90,188.10 236.80,188.10 236.80,191.50 247.20,191.50 247.20,194.40 254.10,194.40 254.10,197.90 257.00,197.90 257.00,200.80 275.80,200.80 275.80,204.10 276.40,204.10 276.40,209.90 282.50,209.90 282.50,222.30 307.80,222.30 307.80,237.40 330.70,237.40" fill="none" stroke="#b42a70" stroke-width="1.5" stroke-linejoin="miter"/>
<polyline points="220.00,185.80 239.10,185.80 239.10,191.50 243.70,191.50 243.70,197.30 245.40,197.30 245.40,203.70 259.80,203.70 259.80,206.50 263.30,206.50 263.30,210.60 267.70,210.60 268.13,210.60 268.13,212.03 268.57,212.03 268.57,213.47 269.00,213.47 269.00,214.90 269.47,214.90 269.47,216.23 269.93,216.23 269.93,217.57 270.40,217.57 270.40,218.90 270.83,218.90 270.83,220.27 271.27,220.27 271.27,221.63 271.70,221.63 271.70,223.00 272.70,223.00 272.70,224.15 273.70,224.15 273.70,225.30 273.93,225.30 273.93,226.60 274.17,226.60 274.17,227.90 274.40,227.90 274.40,229.20 274.63,229.20 274.63,230.50 274.87,230.50 274.87,231.80 275.10,231.80 275.10,233.10 275.77,233.10 275.77,234.33 276.43,234.33 276.43,235.57 277.10,235.57 277.10,236.80 283.80,236.80 283.80,240.50 285.20,240.50 285.50,250.80 292.20,250.80 292.20,258.80 293.80,258.80 293.80,266.90 296.50,266.90 296.50,283.10 328.80,283.10" fill="none" stroke="#33358a" stroke-width="1.65" stroke-linejoin="miter"/>
<polyline points="220.00,342.00 232.00,342.00 235.00,344.00 235.67,344.00 235.67,345.33 236.33,345.33 236.33,346.67 237.00,346.67 237.00,348.00 242.00,348.50 243.50,350.00 243.50,360.50 255.00,360.50 255.00,366.00 257.50,366.00 257.50,379.00 258.00,379.00 258.00,380.33 258.50,380.33 258.50,381.67 259.00,381.67 259.00,383.00 259.50,383.00 259.50,384.25 260.00,384.25 260.00,385.50 260.50,385.50 260.50,386.75 261.00,386.75 261.00,388.00 261.33,388.00 261.33,389.50 261.67,389.50 261.67,391.00 262.00,391.00 262.00,392.50 262.33,392.50 262.33,394.00 262.67,394.00 262.67,395.50 263.00,395.50 263.00,397.00 263.30,397.00 263.30,398.50 263.60,398.50 263.60,400.00 263.90,400.00 263.90,401.50 264.20,401.50 264.20,403.00 264.50,403.00 264.50,404.50 276.70,404.50 276.70,412.50 279.40,412.50 279.40,429.30 283.50,429.30 283.50,435.40 296.20,435.40 296.20,454.90" fill="none" stroke="#688a58" stroke-width="1.4" stroke-linejoin="miter"/>
<polyline points="220.00,342.00 232.00,342.00 235.00,343.50 240.00,343.50 240.75,343.50 240.75,345.25 241.50,345.25 241.50,347.00 243.00,348.50 246.00,349.50 246.50,349.50 246.50,351.25 247.00,351.25 247.00,353.00 248.00,353.00 248.00,354.75 249.00,354.75 249.00,356.50 250.00,356.50 250.00,357.75 251.00,357.75 251.00,359.00 254.00,360.50 257.00,361.00 259.00,362.50 263.00,363.50 265.00,365.50 266.00,365.50 266.00,367.00 267.00,367.00 267.00,368.50 268.00,368.50 268.00,370.00 270.00,371.50 273.50,371.50 274.75,371.50 274.75,372.75 276.00,372.75 276.00,374.00 276.50,380.00 277.25,380.00 277.25,381.50 278.00,381.50 278.00,383.00 284.00,383.00 284.25,383.00 284.25,384.50 284.50,384.50 284.50,386.00 284.75,386.00 284.75,387.50 285.00,387.50 285.00,389.00 288.00,391.00 292.00,392.00 293.50,392.00 293.50,393.25 295.00,393.25 295.00,394.50 297.30,394.50 297.30,396.10 299.60,396.10 299.60,397.70 300.73,397.70 300.73,399.27 301.87,399.27 301.87,400.83 303.00,400.83 303.00,402.40 303.43,402.40 303.43,403.73 303.87,403.73 303.87,405.07 304.30,405.07 304.30,406.40 307.00,407.80 307.70,412.50 316.40,412.50 316.40,416.50 321.80,416.50 321.80,419.90 329.20,419.90 329.20,427.30 336.00,427.30" fill="none" stroke="#b42a70" stroke-width="1.5" stroke-linejoin="miter"/>
<polyline points="220.00,342.00 232.00,342.00 235.00,344.00 236.00,344.00 236.00,345.50 237.00,345.50 237.00,347.00 237.67,347.00 237.67,348.33 238.33,348.33 238.33,349.67 239.00,349.67 239.00,351.00 239.67,351.00 239.67,352.50 240.33,352.50 240.33,354.00 241.00,354.00 241.00,355.50 241.83,355.50 241.83,357.00 242.67,357.00 242.67,358.50 243.50,358.50 243.50,360.00 244.00,360.00 244.00,361.75 244.50,361.75 244.50,363.50 245.75,363.50 245.75,364.75 247.00,364.75 247.00,366.00 248.00,366.00 248.00,367.50 249.00,367.50 249.00,369.00 250.50,369.00 250.50,370.50 252.00,370.50 252.00,372.00 253.00,372.00 253.00,373.33 254.00,373.33 254.00,374.67 255.00,374.67 255.00,376.00 255.67,376.00 255.67,377.33 256.33,377.33 256.33,378.67 257.00,378.67 257.00,380.00 257.67,380.00 257.67,381.33 258.33,381.33 258.33,382.67 259.00,382.67 259.00,384.00 259.67,384.00 259.67,385.33 260.33,385.33 260.33,386.67 261.00,386.67 261.00,388.00 261.60,388.00 261.60,389.40 262.20,389.40 262.20,390.80 262.80,390.80 262.80,392.20 263.40,392.20 263.40,393.60 264.00,393.60 264.00,395.00 264.75,395.00 264.75,396.25 265.50,396.25 265.50,397.50 266.25,397.50 266.25,398.75 267.00,398.75 267.00,400.00 267.75,400.00 267.75,401.25 268.50,401.25 268.50,402.50 269.25,402.50 269.25,403.75 270.00,403.75 270.00,405.00 271.00,405.00 271.00,406.55 272.00,406.55 272.00,408.10 273.00,408.10 273.00,409.65 274.00,409.65 274.00,411.20 276.05,411.20 276.05,412.85 278.10,412.85 278.10,414.50 286.20,414.50 287.53,414.50 287.53,416.07 288.87,416.07 288.87,417.63 290.20,417.63 290.20,419.20 291.53,419.20 291.53,420.57 292.87,420.57 292.87,421.93 294.20,421.93 294.20,423.30 296.55,423.30 296.55,424.95 298.90,424.95 298.90,426.60 300.03,426.60 300.03,428.17 301.17,428.17 301.17,429.73 302.30,429.73 302.30,431.30 302.82,431.30 302.82,432.66 303.34,432.66 303.34,434.02 303.86,434.02 303.86,435.38 304.38,435.38 304.38,436.74 304.90,436.74 304.90,438.10 309.60,439.40 321.00,439.40 322.05,439.40 322.05,441.10 323.10,441.10 323.10,442.80 324.75,442.80 324.75,444.50 326.40,444.50 326.40,446.20 327.45,446.20 327.45,447.50 328.50,447.50 328.50,448.80 339.20,448.80" fill="none" stroke="#33358a" stroke-width="1.65" stroke-linejoin="miter"/>
<polyline points="377.50,29.50 393.00,29.50 396.00,30.50 401.00,31.50 406.00,33.50 410.00,35.00 412.50,35.00 412.50,36.25 415.00,36.25 415.00,37.50 416.50,37.50 416.50,39.25 418.00,39.25 418.00,41.00 420.33,41.00 420.33,42.33 422.67,42.33 422.67,43.67 425.00,43.67 425.00,45.00 426.50,45.00 426.50,46.75 428.00,46.75 428.00,48.50 429.50,48.50 429.50,49.75 431.00,49.75 431.00,51.00 432.33,51.00 432.33,52.33 433.67,52.33 433.67,53.67 435.00,53.67 435.00,55.00 435.80,55.00 435.80,56.30 436.60,56.30 436.60,57.60 437.40,57.60 437.40,58.90 438.20,58.90 438.20,60.20 439.00,60.20 439.00,61.50 443.00,62.00 445.00,62.00 445.00,63.50 447.00,63.50 447.00,65.00 449.00,65.00 449.00,66.50 451.00,66.50 451.00,68.00 451.80,68.00 451.80,69.40 452.60,69.40 452.60,70.80 453.40,70.80 453.40,72.20 454.20,72.20 454.20,73.60 455.00,73.60 455.00,75.00 456.15,75.00 456.15,76.30 457.30,76.30 457.30,77.60 458.45,77.60 458.45,78.90 459.60,78.90 459.60,80.20 460.20,84.80 466.00,84.80 470.00,84.50 475.80,84.20 476.17,84.20 476.17,85.73 476.53,85.73 476.53,87.27 476.90,87.27 476.90,88.80 481.50,90.00 481.80,90.00 481.80,91.25 482.10,91.25 482.10,92.50 482.40,92.50 482.40,93.75 482.70,93.75 482.70,95.00 503.80,95.00" fill="none" stroke="#688a58" stroke-width="1.4" stroke-linejoin="miter"/>
<polyline points="377.50,29.50 393.00,29.50 396.00,30.50 403.00,31.00 406.00,33.00 410.00,34.50 415.00,36.50 420.00,37.50 423.00,39.00 427.00,40.50 430.00,42.50 431.25,42.50 431.25,44.25 432.50,44.25 432.50,46.00 433.17,46.00 433.17,47.33 433.83,47.33 433.83,48.67 434.50,48.67 434.50,50.00 435.25,50.00 435.25,51.75 436.00,51.75 436.00,53.50 437.00,53.50 437.00,55.00 438.00,55.00 438.00,56.50 439.00,56.50 439.00,58.00 441.00,58.00 441.00,59.33 443.00,59.33 443.00,60.67 445.00,60.67 445.00,62.00 449.00,64.00 452.00,65.00 453.50,65.00 453.50,66.75 455.00,66.75 455.00,68.50 456.15,68.50 456.15,69.75 457.30,69.75 457.30,71.00 461.90,71.00 462.50,71.00 462.50,72.15 463.10,72.15 463.10,73.30 468.30,73.30 468.85,73.30 468.85,74.75 469.40,74.75 469.40,76.20 472.90,76.20 473.45,76.20 473.45,77.35 474.00,77.35 474.00,78.50 481.00,78.50 481.50,82.50 483.30,82.50 483.30,87.50 489.60,87.50 489.60,96.90 494.80,96.90" fill="none" stroke="#b42a70" stroke-width="1.5" stroke-linejoin="miter"/>
<polyline points="377.50,29.50 393.00,29.50 396.00,30.50 401.00,31.50 406.00,33.50 410.00,35.00 415.00,37.00 417.00,37.00 417.00,38.25 419.00,38.25 419.00,39.50 421.00,39.50 421.00,40.75 423.00,40.75 423.00,42.00 425.00,42.00 425.00,43.50 427.00,43.50 427.00,45.00 429.00,45.00 429.00,46.75 431.00,46.75 431.00,48.50 432.00,48.50 432.00,49.75 433.00,49.75 433.00,51.00 434.00,51.00 434.00,52.25 435.00,52.25 435.00,53.50 436.33,53.50 436.33,55.00 437.67,55.00 437.67,56.50 439.00,56.50 439.00,58.00 440.33,58.00 440.33,59.33 441.67,59.33 441.67,60.67 443.00,60.67 443.00,62.00 445.00,62.00 445.00,63.50 447.00,63.50 447.00,65.00 449.00,65.00 449.00,66.50 451.00,66.50 451.00,68.00 452.00,68.00 452.00,69.33 453.00,69.33 453.00,70.67 454.00,70.67 454.00,72.00 455.50,72.00 455.50,73.50 457.00,73.50 457.00,75.00 458.30,75.00 458.30,76.75 459.60,76.75 459.60,78.50 461.90,78.50 461.90,80.20 464.20,80.20 464.20,81.90 466.50,81.90 466.50,83.35 468.80,83.35 468.80,84.80 473.50,86.00 474.83,86.00 474.83,87.33 476.17,87.33 476.17,88.67 477.50,88.67 477.50,90.00 481.00,91.20 482.15,91.20 482.15,92.90 483.30,92.90 483.30,94.60 491.90,94.60 492.50,97.50 519.00,97.50" fill="none" stroke="#33358a" stroke-width="1.65" stroke-linejoin="miter"/>
<polyline points="377.70,186.60 398.50,186.60 398.50,189.50 401.40,189.50 401.40,193.50 413.50,193.50 413.50,198.20 433.70,198.20 433.70,204.80 459.30,204.80 459.30,229.00 466.70,229.70" fill="none" stroke="#688a58" stroke-width="1.4" stroke-linejoin="miter"/>
<polyline points="377.70,186.60 407.20,186.60 407.20,188.30 410.60,188.30 412.90,188.30 412.90,189.50 415.20,189.50 415.20,190.70 419.30,190.70 419.30,192.70 429.70,192.70 429.70,195.40 433.70,195.40 433.70,199.40 435.80,199.40 435.80,204.80 452.60,204.80 452.60,211.50 456.00,211.50 456.00,218.90 472.80,218.90 472.80,239.10 483.50,239.10" fill="none" stroke="#b42a70" stroke-width="1.5" stroke-linejoin="miter"/>
<polyline points="377.70,186.60 399.10,186.60 403.00,187.20 406.00,188.20 410.60,189.80 412.90,189.80 412.90,191.10 415.20,191.10 415.20,192.40 417.50,192.40 417.50,194.10 419.80,194.10 419.80,195.80 422.15,195.80 422.15,197.25 424.50,197.25 424.50,198.70 427.45,198.70 427.45,200.40 430.40,200.40 430.40,202.10 432.20,202.10 432.20,203.47 434.00,203.47 434.00,204.83 435.80,204.83 435.80,206.20 436.60,206.20 436.60,207.54 437.40,207.54 437.40,208.88 438.20,208.88 438.20,210.22 439.00,210.22 439.00,211.56 439.80,211.56 439.80,212.90 440.98,212.90 440.98,214.25 442.15,214.25 442.15,215.60 443.32,215.60 443.32,216.95 444.50,216.95 444.50,218.30 451.20,218.30 452.25,218.30 452.25,219.95 453.30,219.95 453.30,221.60 455.30,221.60 455.30,222.95 457.30,222.95 457.30,224.30 460.70,226.30 465.40,228.40 466.70,229.70 475.50,229.70 476.10,241.10 495.00,241.10" fill="none" stroke="#33358a" stroke-width="1.65" stroke-linejoin="miter"/>
<polyline points="377.70,342.20 393.30,342.20 395.60,342.50 401.40,343.60 406.00,344.20 410.60,345.90 414.10,347.70 415.80,347.70 415.80,349.10 417.50,349.10 417.50,350.50 419.07,350.50 419.07,352.07 420.63,352.07 420.63,353.63 422.20,353.63 422.20,355.20 423.12,355.20 423.12,356.58 424.04,356.58 424.04,357.96 424.96,357.96 424.96,359.34 425.88,359.34 425.88,360.72 426.80,360.72 426.80,362.10 427.80,362.10 427.80,363.45 428.80,363.45 428.80,364.80 429.80,364.80 429.80,366.15 430.80,366.15 430.80,367.50 431.94,367.50 431.94,368.76 433.08,368.76 433.08,370.02 434.22,370.02 434.22,371.28 435.36,371.28 435.36,372.54 436.50,372.54 436.50,373.80 437.95,373.80 437.95,375.10 439.40,375.10 439.40,376.40 440.85,376.40 440.85,377.70 442.30,377.70 442.30,379.00 445.20,379.00 445.20,380.15 448.10,380.15 448.10,381.30 449.80,381.30 449.80,382.75 451.50,382.75 451.50,384.20 452.00,384.20 452.00,385.69 452.50,385.69 452.50,387.17 453.00,387.17 453.00,388.66 453.50,388.66 453.50,390.14 454.00,390.14 454.00,391.63 454.50,391.63 454.50,393.11 455.00,393.11 455.00,394.60 456.53,394.60 456.53,396.13 458.07,396.13 458.07,397.67 459.60,397.67 459.60,399.20 460.75,399.20 460.75,400.35 461.90,400.35 461.90,401.50 467.90,402.30 476.50,402.30 476.50,405.70 482.30,405.70 482.30,411.40 504.40,411.40" fill="none" stroke="#688a58" stroke-width="1.4" stroke-linejoin="miter"/>
<polyline points="377.70,342.20 393.30,342.20 395.60,343.60 397.90,343.60 397.90,344.80 400.20,344.80 400.20,346.00 402.50,346.00 402.50,347.40 404.80,347.40 404.80,348.80 408.30,350.50 412.90,351.10 416.35,351.10 416.35,352.25 419.80,352.25 419.80,353.40 422.15,353.40 422.15,354.85 424.50,354.85 424.50,356.30 427.90,357.50 429.65,357.50 429.65,359.20 431.40,359.20 431.40,360.90 431.97,360.90 431.97,362.13 432.53,362.13 432.53,363.37 433.10,363.37 433.10,364.60 434.23,364.60 434.23,366.13 435.37,366.13 435.37,367.67 436.50,367.67 436.50,369.20 437.20,369.20 437.20,370.60 437.90,370.60 437.90,372.00 438.60,372.00 438.60,373.40 439.30,373.40 439.30,374.80 440.00,374.80 440.00,376.20 440.70,376.20 440.70,377.58 441.40,377.58 441.40,378.96 442.10,378.96 442.10,380.34 442.80,380.34 442.80,381.72 443.50,381.72 443.50,383.10 445.80,383.10 445.80,384.25 448.10,384.25 448.10,385.40 450.00,385.40 450.00,386.93 451.90,386.93 451.90,388.47 453.80,388.47 453.80,390.00 456.20,391.20 461.90,391.20 461.90,393.50 469.30,393.70 469.30,396.50 481.80,396.50 481.80,400.40 484.20,400.40 484.20,404.20 490.50,404.20 490.50,411.90 495.80,411.90" fill="none" stroke="#b42a70" stroke-width="1.5" stroke-linejoin="miter"/>
<polyline points="377.70,342.20 393.30,342.20 395.60,343.80 398.30,343.80 398.30,345.05 401.00,345.05 401.00,346.30 403.50,346.30 403.50,347.55 406.00,347.55 406.00,348.80 410.60,350.60 412.90,350.60 412.90,351.85 415.20,351.85 415.20,353.10 417.50,353.10 417.50,354.45 419.80,354.45 419.80,355.80 422.15,355.80 422.15,357.50 424.50,357.50 424.50,359.20 425.65,359.20 425.65,360.50 426.80,360.50 426.80,361.80 427.95,361.80 427.95,363.10 429.10,363.10 429.10,364.40 430.23,364.40 430.23,365.93 431.37,365.93 431.37,367.47 432.50,367.47 432.50,369.00 433.83,369.00 433.83,370.60 435.17,370.60 435.17,372.20 436.50,372.20 436.50,373.80 437.95,373.80 437.95,375.25 439.40,375.25 439.40,376.70 440.85,376.70 440.85,378.15 442.30,378.15 442.30,379.60 444.23,379.60 444.23,381.13 446.17,381.13 446.17,382.67 448.10,382.67 448.10,384.20 449.53,384.20 449.53,385.65 450.95,385.65 450.95,387.10 452.38,387.10 452.38,388.55 453.80,388.55 453.80,390.00 454.96,390.00 454.96,391.38 456.12,391.38 456.12,392.76 457.28,392.76 457.28,394.14 458.44,394.14 458.44,395.52 459.60,395.52 459.60,396.90 461.53,396.90 461.53,398.43 463.47,398.43 463.47,399.97 465.40,399.97 465.40,401.50 466.65,401.50 466.65,402.85 467.90,402.85 467.90,404.20 472.70,405.20 476.50,407.10 478.50,408.60 482.30,410.00 483.30,411.90 492.40,411.90 492.90,415.80 519.00,415.80" fill="none" stroke="#33358a" stroke-width="1.65" stroke-linejoin="miter"/>
</svg>
</body></html>
